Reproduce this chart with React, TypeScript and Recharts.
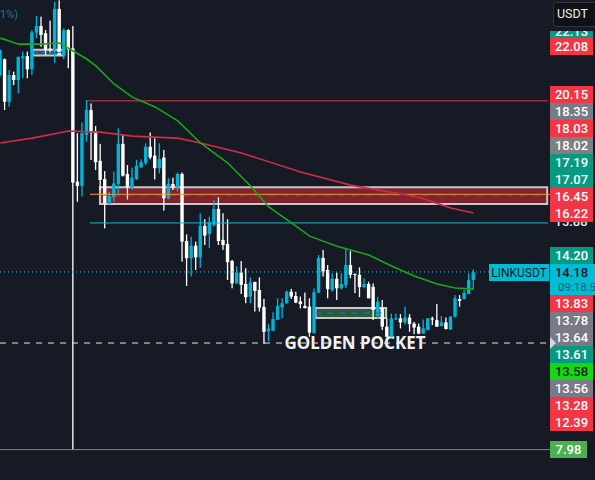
import React from "react";
import { ComposedChart, XAxis, YAxis, Bar, Line, ReferenceLine, ReferenceArea } from "recharts";

const opens = [21.05,21.60,20.12,21.05,20.88,21.63,21.71,21.26,22.53,22.76,22.51,21.97,21.93,23.36,21.75,22.62,21.98,17.33,17.18,18.96,19.83,19.10,18.06,17.42,16.55,16.79,17.25,18.65,17.60,17.12,17.42,17.83,17.99,18.55,18.24,17.80,18.17,16.75,17.25,17.13,17.60,
15.26,14.66,15.10,14.69,15.79,15.51,15.82,16.38,15.30,15.16,14.56,13.78,14.16,13.76,13.32,13.83,13.55,12.96,12.12,12.13,12.51,12.95,13.09,13.49,13.34,13.15,12.99,12.97,12.04,13.46,14.67,14.25,13.55,13.94,13.61,13.73,14.42,14.11,14.08,13.65,13.76,
13.66,12.64,12.91,12.27,11.92,12.52,12.56,12.42,12.59,12.38,12.27,12.03,12.15,12.56,12.50,12.29,12.42,12.17,12.62,13.23,13.23,13.41,13.90];
const closes = [21.93,20.12,21.05,20.88,21.69,21.71,21.25,22.54,22.76,22.45,21.95,21.93,23.36,21.75,22.62,21.95,17.30,17.18,19.02,19.83,19.05,18.01,17.39,16.58,16.83,17.27,18.65,17.54,17.16,17.47,17.88,18.01,18.55,18.18,17.80,18.12,16.75,17.25,17.16,17.60,15.24,
14.66,15.10,14.69,15.79,15.45,15.91,16.38,15.26,15.12,14.52,13.78,14.16,13.73,13.30,13.81,13.52,12.94,12.09,12.20,12.54,12.99,13.09,13.49,13.32,13.11,13.06,12.92,12.06,13.47,14.67,14.20,13.58,13.94,13.61,13.76,14.42,14.08,14.08,13.65,13.76,13.26,
12.85,13.14,12.27,11.92,12.56,12.56,12.42,12.59,12.36,12.24,12.03,12.21,12.56,12.52,12.27,12.42,12.19,12.62,13.26,13.17,13.45,13.90,14.17];
const highs = [21.95,21.63,21.23,21.17,21.69,21.87,21.87,22.62,23.11,23.09,22.62,22.95,23.61,23.66,22.68,22.65,22.76,19.02,19.40,20.18,20.06,19.27,18.65,17.70,16.98,17.68,19.19,18.96,17.91,17.82,18.09,18.11,18.67,19.05,18.84,18.67,18.44,17.45,17.47,17.65,17.65,
15.49,15.41,15.24,16.23,16.02,16.11,16.69,16.79,16.23,16.02,14.60,14.37,14.56,14.31,13.99,13.84,13.99,13.24,12.37,12.77,13.26,13.26,13.53,13.59,13.49,13.32,13.46,13.26,13.61,14.77,14.95,14.42,14.13,14.16,14.13,15.00,14.91,14.13,14.34,13.96,13.84,
13.78,13.31,13.20,12.56,12.73,12.73,12.71,12.97,12.71,12.44,12.38,12.52,12.56,12.62,13.06,12.64,12.59,12.64,13.37,13.37,13.55,14.13,14.27];
const lows = [21.00,19.83,19.95,20.70,20.41,20.94,20.94,21.05,22.33,22.04,21.75,21.81,21.48,21.75,21.60,21.29,7.97,16.63,16.81,18.73,18.09,17.74,17.04,15.70,16.55,16.63,16.92,17.51,16.71,17.04,17.39,17.80,17.91,18.11,17.41,17.62,16.32,16.71,17.04,16.98,14.54,
13.69,14.02,14.25,14.33,15.12,15.01,15.76,15.12,14.95,13.90,13.61,13.78,13.41,13.09,13.09,12.80,12.80,11.67,11.77,12.12,12.51,12.56,13.06,13.24,13.09,12.91,12.91,11.92,12.04,13.44,14.02,13.26,13.49,13.20,13.57,13.61,13.96,13.44,13.30,13.61,13.26,
12.50,12.56,12.15,11.90,11.92,12.50,12.21,12.35,12.09,12.01,12.01,12.03,12.15,12.33,12.27,12.29,12.17,12.17,12.59,12.97,13.23,13.41,13.57];

const greenMa: [number, number][] = [[0,22.34],[2,22.24],[4,22.13],[9,22.13],[13,22.17],[16,21.89],[19,21.61],[21,21.37],[25,20.74],[29,20.28],[34,19.94],[39,19.45],[44,18.68],[50,17.98],[55,17.18],[59,16.45],[64,15.89],[68,15.43],[74,15.08],[81,14.77],[86,14.39],[91,14.04],[96,13.76],[100,13.62],[104,13.58]];
const redMa: [number, number][] = [[0,18.68],[7,18.85],[15,19.10],[22,19.06],[29,18.92],[39,18.85],[44,18.68],[53,18.33],[66,17.67],[77,17.21],[92,16.79],[99,16.41],[104,16.24]];

const tags: [string, number, string, string][] = [
  ["22.08", 38, "#f23645", "#fff"], ["20.15", 86, "#f23645", "#fff"], ["18.35", 103, "#787b86", "#fff"],
  ["18.03", 120, "#f23645", "#fff"], ["18.02", 137, "#808080", "#fff"], ["17.19", 154, "#089981", "#fff"],
  ["17.07", 171, "#089981", "#fff"], ["16.45", 188, "#f23645", "#fff"], ["16.22", 205, "#f23645", "#fff"],
  ["14.20", 247, "#089981", "#fff"], ["13.83", 295, "#f23645", "#fff"], ["13.78", 312, "#787b86", "#fff"],
  ["13.64", 329, "#787b86", "#fff"], ["13.61", 346, "#089981", "#fff"], ["13.58", 363, "#12d912", "#131722"],
  ["13.56", 380, "#787b86", "#fff"], ["13.28", 397, "#f23645", "#fff"], ["12.39", 414, "#f23645", "#fff"],
];

const rows = opens.map((open, i) => ({ i, open, close: closes[i], high: highs[i], low: lows[i] }));
const greenRows = greenMa.map(([i, v]) => ({ i, v }));
const redRows = redMa.map(([i, v]) => ({ i, v }));

const UP = "#00b4d8";
const Candle = (p: any) => {
  const { x, y, width, height, payload } = p;
  const k = height / (payload.high - payload.low);
  const top = y + (payload.high - Math.max(payload.open, payload.close)) * k;
  const bot = y + (payload.high - Math.min(payload.open, payload.close)) * k;
  const c = payload.close >= payload.open ? UP : "#ffffff";
  const cx = x + width / 2;
  return (
    <g>
      <rect x={cx - 0.65} y={y} width={1.3} height={height} fill={c} />
      <rect x={cx - 1.7} y={top} width={3.4} height={Math.max(bot - top, 1)} fill={c} />
    </g>
  );
};

const font = "Roboto, sans-serif";

const App = () => (
  <div style={{ position: "fixed", left: 0, top: 0, width: 595, height: 480, overflow: "hidden", background: "#161a25" }}>
    <ComposedChart width={595} height={480} data={rows} margin={{ top: 0, right: 0, bottom: 0, left: 0 }}>
      <XAxis dataKey="i" type="number" domain={[-0.07, 130.7]} hide allowDataOverflow />
      <YAxis type="number" domain={[6.92, 23.67]} hide allowDataOverflow />

      <ReferenceArea x1={21.9} x2={120.2} y1={16.55} y2={17.14} fill="#7d2430" fillOpacity={1} stroke="#c8c8c8" strokeWidth={2} />
      <ReferenceArea x1={7.2} x2={13.9} y1={21.73} y2={21.93} fill="#2e5a3a" fillOpacity={1} stroke="#c8c8c8" strokeWidth={2} />
      <ReferenceArea x1={69.3} x2={84.8} y1={12.57} y2={12.92} fill="#2e5a3a" fillOpacity={1} stroke="#c8c8c8" strokeWidth={2} />

      <ReferenceLine segment={[{ x: 19, y: 20.15 }, { x: 120.4, y: 20.15 }]} stroke="#d8394a" />
      <ReferenceLine segment={[{ x: 19.7, y: 15.89 }, { x: 120.4, y: 15.89 }]} stroke="#1cb5cc" />
      <ReferenceLine segment={[{ x: 21.9, y: 16.86 }, { x: 120.2, y: 16.86 }]} stroke="#2962ff" strokeDasharray="6 8" />
      <ReferenceLine segment={[{ x: 19.7, y: 16.89 }, { x: 120.8, y: 16.89 }]} stroke="#f59a1b" />
      <ReferenceLine segment={[{ x: 7.2, y: 21.84 }, { x: 13.9, y: 21.84 }]} stroke="#2962ff" strokeDasharray="4 4" />
      <ReferenceLine segment={[{ x: 69.3, y: 12.75 }, { x: 84.8, y: 12.75 }]} stroke="#2962ff" strokeDasharray="6 6" />
      <ReferenceLine segment={[{ x: -0.07, y: 14.18 }, { x: 107.6, y: 14.18 }]} stroke="#1cc4dc" strokeDasharray="1 3" />
      <ReferenceLine segment={[{ x: -0.07, y: 11.7 }, { x: 120.8, y: 11.7 }]} stroke="#e6e6e6" strokeDasharray="6 6" />
      <ReferenceLine segment={[{ x: -0.07, y: 7.98 }, { x: 120.8, y: 7.98 }]} stroke="#4caf50" />

      <Bar dataKey={(d: any) => [d.low, d.high]} barSize={4} shape={Candle} isAnimationActive={false} />
      <Line data={redRows} dataKey="v" stroke="#d12c45" strokeWidth={1.6} dot={false} activeDot={false} isAnimationActive={false} />
      <Line data={greenRows} dataKey="v" stroke="#18a818" strokeWidth={1.6} dot={false} activeDot={false} isAnimationActive={false} />

      <text x={355} y={349} textAnchor="middle" fontFamily="'Noto Sans', sans-serif" fontWeight={700} fontSize={17} fill="#f2f2f2">GOLDEN POCKET</text>
      <text x={0} y={18} fontFamily={font} fontSize={11} fill="#0f7f8f">1%)</text>

      <text x={571} y={225.5} textAnchor="middle" fontFamily={font} fontWeight={500} fontSize={13} fill="#e8e8e8">15.88</text>
      <rect x={550} y={31} width={43} height={8} fill="#089981" />
      <text x={571.5} y={35.5} textAnchor="middle" fontFamily={font} fontWeight={500} fontSize={13} fill="#fff">22.13</text>
      <rect x={550} y={22} width={43} height={9} fill="#161a25" />
      {tags.map(([t, top, bg, fg]) => (
        <g key={t}>
          <rect x={550} y={top} width={43} height={17} fill={bg} />
          <text x={571.5} y={top + 13} textAnchor="middle" fontFamily={font} fontWeight={500} fontSize={13} fill={fg}>{t}</text>
        </g>
      ))}
      <rect x={489} y={264} width={60} height={17} fill="#00bcd4" />
      <text x={519} y={277} textAnchor="middle" fontFamily={font} fontSize={12} fill="#131722">LINKUSDT</text>
      <rect x={550} y={264} width={45} height={31} fill="#00bcd4" />
      <text x={571.5} y={277} textAnchor="middle" fontFamily={font} fontWeight={500} fontSize={13} fill="#131722">14.18</text>
      <text x={558} y={291} fontFamily={font} fontSize={11.5} fill="#0c5a6b">09:18:5</text>
      <rect x={550} y={441} width={37} height={17} fill="#4caf50" />
      <text x={568.5} y={454} textAnchor="middle" fontFamily={font} fontWeight={500} fontSize={13} fill="#fff">7.98</text>
      <polygon points="550,337 556,343 550,349" fill="#d8d8d8" />
      <rect x={553.5} y={2.5} width={44} height={24} rx={3} fill="#0f1116" stroke="#33363f" />
      <text x={557} y={18} fontFamily={font} fontSize={12.5} fill="#e8eef5">USDT</text>
    </ComposedChart>
  </div>
);

export default App;
